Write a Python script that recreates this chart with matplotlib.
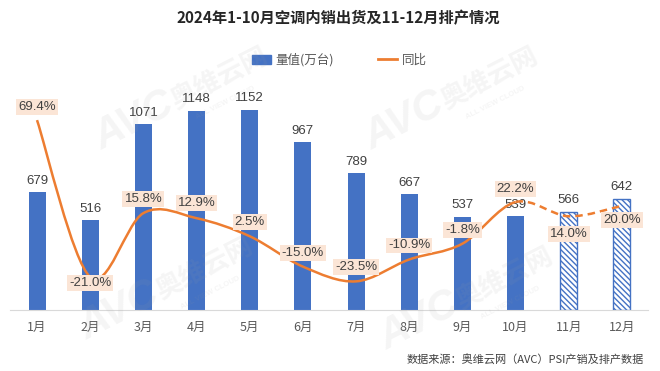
import numpy as np
import matplotlib.pyplot as plt
from matplotlib.path import Path
from matplotlib.patches import PathPatch, Patch
from matplotlib.lines import Line2D

plt.rcParams['font.family'] = ['Liberation Sans', 'Noto Sans CJK SC']
plt.rcParams['hatch.linewidth'] = 1.0

months = ['1月', '2月', '3月', '4月', '5月', '6月', '7月', '8月', '9月', '10月', '11月', '12月']
volume = [679, 516, 1071, 1148, 1152, 967, 789, 667, 537, 539, 566, 642]
yoy = [69.4, -21.0, 15.8, 12.9, 2.5, -15.0, -23.5, -10.9, -1.8, 22.2, 14.0, 20.0]
n_actual = 10  # 1-10月实际，11-12月排产

blue = '#4472C4'
orange = '#ED7D31'
grey = '#595959'

fig = plt.figure(figsize=(6.6, 3.71), dpi=100)
ax = fig.add_axes([0.0158, 0.1644, 0.9667, 0.655])
ax2 = ax.twinx()

x = np.arange(len(months))
ax.bar(x[:n_actual], volume[:n_actual], width=0.32, color=blue, zorder=2)
ax.bar(x[n_actual:], volume[n_actual:], width=0.32, color='white',
       edgecolor=blue, hatch='\\' * 6, linewidth=1, zorder=2)
for xi, v in zip(x, volume):
    ax.annotate(str(v), (xi, v), xytext=(0, 4), textcoords='offset points',
                ha='center', va='bottom', fontsize=9.5, color='#404040')

ax.set_xlim(-0.5, len(months) - 0.5)
ax.set_ylim(0, 1400)
ax.set_xticks(x)
ax.set_xticklabels(months, fontsize=9, color=grey, family=['Noto Sans CJK SC'])
ax.tick_params(axis='x', length=0, pad=8)
ax.set_yticks([])
for s in ['top', 'left', 'right']:
    ax.spines[s].set_visible(False)
    ax2.spines[s].set_visible(False)
ax.spines['bottom'].set_color('#D9D9D9')
ax2.spines['bottom'].set_visible(False)

# 平滑折线（贝塞尔）
pts = np.column_stack([x, yoy]).astype(float)
segs = []
for i in range(len(pts) - 1):
    p0 = pts[i - 1] if i > 0 else pts[i]
    p1 = pts[i]
    p2 = pts[i + 1]
    p3 = pts[i + 2] if i + 2 < len(pts) else pts[i + 1]
    segs.append((p1, p1 + (p2 - p0) / 6, p2 - (p3 - p1) / 6, p2))

def make_path(ss):
    verts = [ss[0][0]]
    codes = [Path.MOVETO]
    for s in ss:
        verts += [s[1], s[2], s[3]]
        codes += [Path.CURVE4] * 3
    return Path(verts, codes)

ax2.add_patch(PathPatch(make_path(segs[:n_actual - 1]), fill=False,
                        edgecolor=orange, lw=1.8, zorder=3))
ax2.add_patch(PathPatch(make_path(segs[n_actual - 1:]), fill=False,
                        edgecolor=orange, lw=1.8, ls=(0, (3, 2)), zorder=3))
ax2.set_ylim(-40, 100)
ax2.set_yticks([])

offs = [13, -6, 14, 15, 14, 14, 14, 14, 14, 13, -18, -14]
for xi, v, o in zip(x, yoy, offs):
    ax2.annotate(f'{v:.1f}%', (xi, v), xytext=(0, o), textcoords='offset pixels',
                 ha='center', va='center', fontsize=9.5, color='#404040', zorder=5,
                 bbox=dict(boxstyle='square,pad=0.15', fc='#FBE5D6', ec='none'))

handles = [Patch(color=blue), Line2D([], [], color=orange, lw=2)]
fig.legend(handles, ['量值(万台)', '同比'], loc='center', bbox_to_anchor=(0.514, 0.838),
           ncol=2, frameon=False, labelcolor=grey, columnspacing=3.5,
           handlelength=1.5, handletextpad=0.4, prop={'family': ['Noto Sans CJK SC'], 'size': 9})

fig.text(0.513, 0.952, '2024年1-10月空调内销出货及11-12月排产情况', ha='center', va='center',
         fontsize=11, fontweight='bold', color='#262626', family=['Noto Sans CJK SC'])
fig.text(0.975, 0.028, '数据来源：奥维云网（AVC）PSI产销及排产数据', ha='right', va='center',
         fontsize=8, color='#404040', family=['Noto Sans CJK SC'])

# 水印
def watermark(px, py):
    kw = dict(transform=None, rotation=27, color='#9E9E9E', alpha=0.1, zorder=10,
              ha='center', va='center', fontweight='bold')
    fig.text(px, py, 'AVC', fontsize=30, style='italic', **kw)
    fig.text(px + 85, py + 42, '奥维云网', fontsize=19, family=['Noto Sans CJK SC'], **kw)
    fig.text(px + 90, py + 18, 'ALL VIEW CLOUD', fontsize=5.5, **kw)

for wx, wy in [(405, 250), (135, 250), (120, 60), (420, 50)]:
    watermark(wx, wy)

fig.savefig('out.png', dpi=100)
